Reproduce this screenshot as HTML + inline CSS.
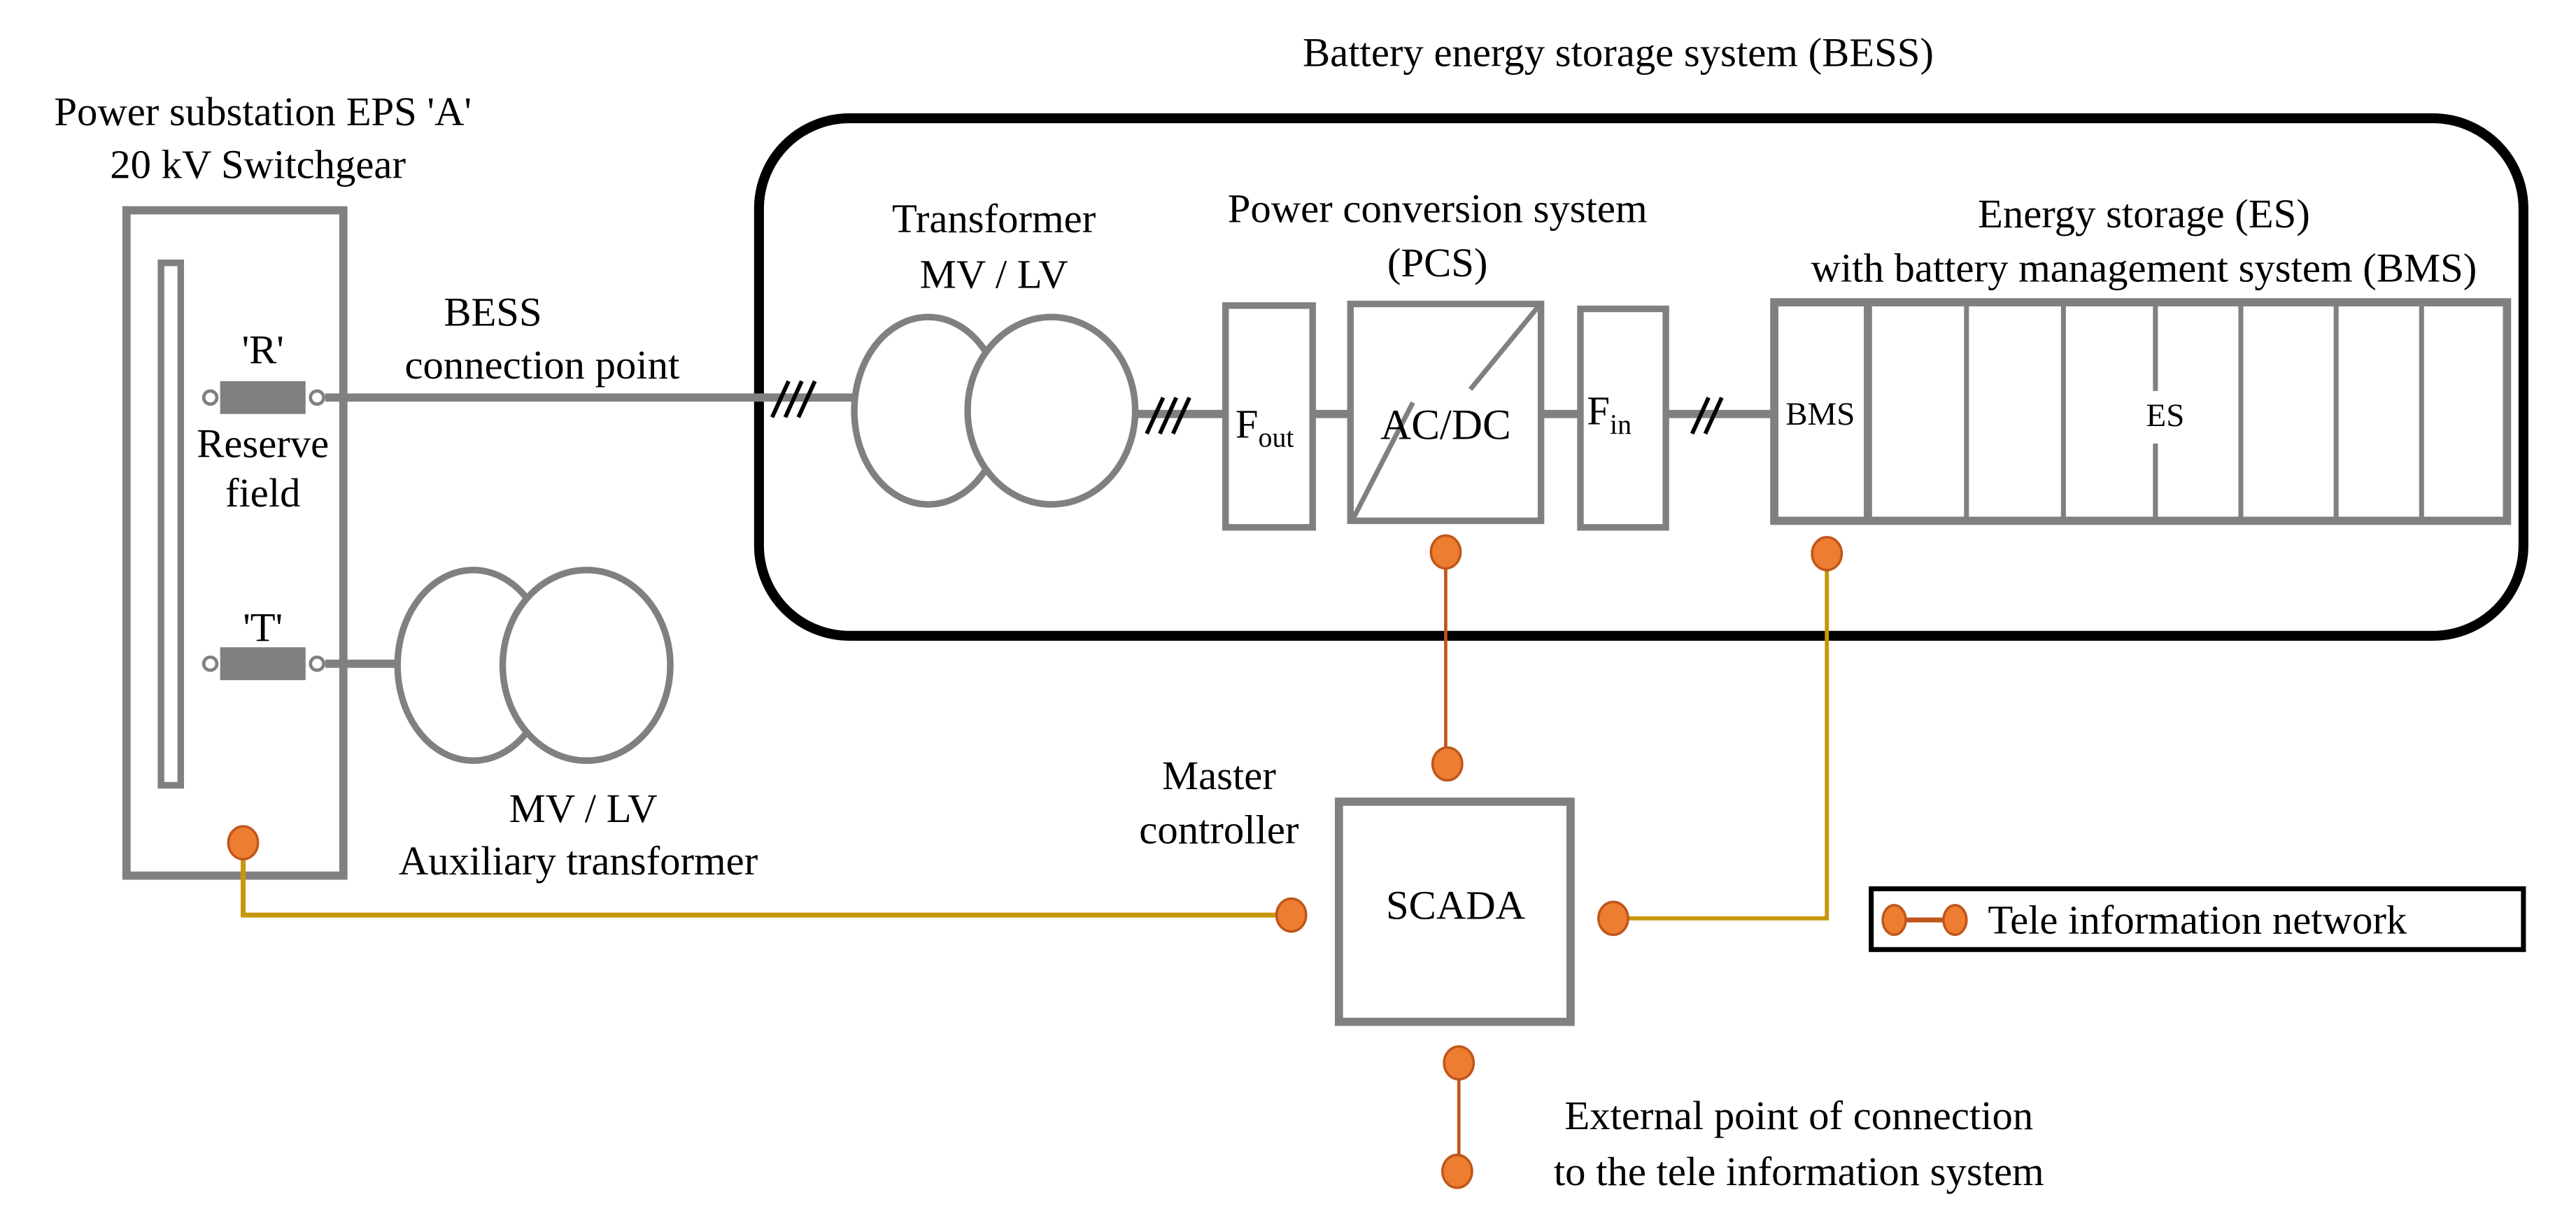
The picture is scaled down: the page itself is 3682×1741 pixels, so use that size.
<!DOCTYPE html>
<html><head><meta charset="utf-8"><style>
html,body{margin:0;padding:0;background:#fff;}
svg{display:block;}
svg text{font-family:"Liberation Serif","Times New Roman","DejaVu Serif",serif;fill:#000;dominant-baseline:central;}
</style></head><body>
<svg width="3682" height="1741" viewBox="0 0 1568 741.4" xmlns="http://www.w3.org/2000/svg" font-family="Liberation Serif, Times New Roman, serif">
<rect width="1568" height="742" fill="#fff"/>
<g font-size="25" text-anchor="middle" font-family="Liberation Serif, serif">
<text x="985" y="32">Battery energy storage system (BESS)</text>
<text x="160" y="68">Power substation EPS 'A'</text>
<text x="157" y="100">20 kV Switchgear</text>
<text x="605" y="133">Transformer</text>
<text x="605" y="167">MV / LV</text>
<text x="875" y="127">Power conversion system</text>
<text x="875" y="160">(PCS)</text>
<text x="1305" y="130">Energy storage (ES)</text>
<text x="1305" y="163">with battery management system (BMS)</text>
<text x="300" y="190">BESS</text>
<text x="330" y="222">connection point</text>
<text x="160" y="213">'R'</text>
<text x="160" y="270">Reserve</text>
<text x="160" y="300">field</text>
<text x="160" y="382">'T'</text>
<text x="355" y="492">MV / LV</text>
<text x="352" y="524">Auxiliary transformer</text>
<text x="742" y="472">Master</text>
<text x="742" y="505">controller</text>
<text x="1095" y="679">External point of connection</text>
<text x="1095" y="713">to the tele information system</text>
</g>
<rect x="462" y="72" width="1074" height="315" rx="55" fill="none" stroke="#000" stroke-width="6"/>
<rect x="77" y="128" width="132" height="405" fill="none" stroke="#808080" stroke-width="5"/>
<rect x="98" y="160" width="12" height="318" fill="none" stroke="#808080" stroke-width="4"/>
<line x1="198" y1="242" x2="520" y2="242" stroke="#808080" stroke-width="5"/>
<rect x="134" y="232" width="52" height="20" fill="#808080"/>
<circle cx="128" cy="242" r="4" fill="#fff" stroke="#808080" stroke-width="2"/>
<circle cx="193" cy="242" r="4" fill="#fff" stroke="#808080" stroke-width="2"/>
<g stroke="#000" stroke-width="2.5"><line x1="470" y1="254" x2="480" y2="232"/><line x1="478" y1="254" x2="488" y2="232"/><line x1="486" y1="254" x2="496" y2="232"/></g>
<ellipse cx="565" cy="250" rx="45" ry="57" fill="#fff" stroke="#808080" stroke-width="4"/>
<ellipse cx="640" cy="250" rx="51" ry="57" fill="#fff" stroke="#808080" stroke-width="4"/>
<line x1="692" y1="252" x2="745" y2="252" stroke="#808080" stroke-width="5"/>
<g stroke="#000" stroke-width="2.5"><line x1="698" y1="264" x2="708" y2="242"/><line x1="706" y1="264" x2="716" y2="242"/><line x1="714" y1="264" x2="724" y2="242"/></g>
<rect x="746" y="186" width="53" height="135" fill="#fff" stroke="#808080" stroke-width="4"/>
<text x="752" y="258" font-size="25" font-family="Liberation Serif, serif">F<tspan font-size="17" dy="8">out</tspan></text>
<line x1="799" y1="252" x2="821" y2="252" stroke="#808080" stroke-width="5"/>
<rect x="822" y="185" width="116" height="132" fill="#fff" stroke="#808080" stroke-width="4"/>
<line x1="824" y1="315" x2="860" y2="245" stroke="#808080" stroke-width="3"/>
<line x1="895" y1="237" x2="936" y2="187" stroke="#808080" stroke-width="3"/>
<text x="880" y="259" font-size="26" text-anchor="middle" font-family="Liberation Serif, serif">AC/DC</text>
<line x1="938" y1="252" x2="961" y2="252" stroke="#808080" stroke-width="5"/>
<rect x="962" y="188" width="52" height="133" fill="#fff" stroke="#808080" stroke-width="4"/>
<text x="966" y="250" font-size="25" font-family="Liberation Serif, serif">F<tspan font-size="17" dy="8">in</tspan></text>
<line x1="1014" y1="252" x2="1080" y2="252" stroke="#808080" stroke-width="5"/>
<g stroke="#000" stroke-width="2.5"><line x1="1030" y1="264" x2="1040" y2="242"/><line x1="1038" y1="264" x2="1048" y2="242"/></g>
<rect x="1080" y="184" width="446" height="133" fill="#fff" stroke="#808080" stroke-width="5"/>
<g stroke="#808080" stroke-width="3">
<line x1="1137" y1="184" x2="1137" y2="317" stroke-width="5"/>
<line x1="1197" y1="184" x2="1197" y2="317"/>
<line x1="1256" y1="184" x2="1256" y2="317"/>
<line x1="1312" y1="184" x2="1312" y2="238"/><line x1="1312" y1="270" x2="1312" y2="317"/>
<line x1="1364" y1="184" x2="1364" y2="317"/>
<line x1="1422" y1="184" x2="1422" y2="317"/>
<line x1="1474" y1="184" x2="1474" y2="317"/>
</g>
<text x="1108" y="252" font-size="20" text-anchor="middle" font-family="Liberation Serif, serif">BMS</text>
<text x="1318" y="253" font-size="20" text-anchor="middle" font-family="Liberation Serif, serif">ES</text>
<line x1="198" y1="404" x2="245" y2="404" stroke="#808080" stroke-width="5"/>
<rect x="134" y="394" width="52" height="20" fill="#808080"/>
<circle cx="128" cy="404" r="4" fill="#fff" stroke="#808080" stroke-width="2"/>
<circle cx="193" cy="404" r="4" fill="#fff" stroke="#808080" stroke-width="2"/>
<ellipse cx="288" cy="405" rx="46" ry="58" fill="#fff" stroke="#808080" stroke-width="4"/>
<ellipse cx="357" cy="405" rx="51" ry="58" fill="#fff" stroke="#808080" stroke-width="4"/>
<rect x="815" y="488" width="141" height="134" fill="#fff" stroke="#808080" stroke-width="5"/>
<text x="886" y="551" font-size="25" text-anchor="middle" font-family="Liberation Serif, serif">SCADA</text>
<line x1="880" y1="337" x2="880" y2="465" stroke="#c0561a" stroke-width="2"/>
<line x1="888" y1="647" x2="888" y2="713" stroke="#c0561a" stroke-width="2"/>
<polyline points="148,513 148,557 786,557" fill="none" stroke="#c8960a" stroke-width="3"/>
<polyline points="982,559 1112,559 1112,337" fill="none" stroke="#c8960a" stroke-width="2.5"/>
<g fill="#ed7d31" stroke="#c0561a" stroke-width="1.5">
<ellipse cx="880" cy="336" rx="9" ry="10"/>
<ellipse cx="1112" cy="337" rx="9" ry="10"/>
<ellipse cx="881" cy="465" rx="9" ry="10"/>
<ellipse cx="148" cy="513" rx="9" ry="10"/>
<ellipse cx="786" cy="557" rx="9" ry="10"/>
<ellipse cx="982" cy="559" rx="9" ry="10"/>
<ellipse cx="888" cy="647" rx="9" ry="10"/>
<ellipse cx="887" cy="713" rx="9" ry="10"/>
</g>
<rect x="1139" y="541" width="397" height="37" fill="#fff" stroke="#000" stroke-width="3"/>
<line x1="1153" y1="560" x2="1190" y2="560" stroke="#c0561a" stroke-width="3"/>
<ellipse cx="1153" cy="560" rx="7" ry="9" fill="#ed7d31" stroke="#c0561a" stroke-width="1.5"/>
<ellipse cx="1190" cy="560" rx="7" ry="9" fill="#ed7d31" stroke="#c0561a" stroke-width="1.5"/>
<text x="1210" y="560" font-size="25" font-family="Liberation Serif, serif">Tele information network</text>
</svg>
</body></html>
